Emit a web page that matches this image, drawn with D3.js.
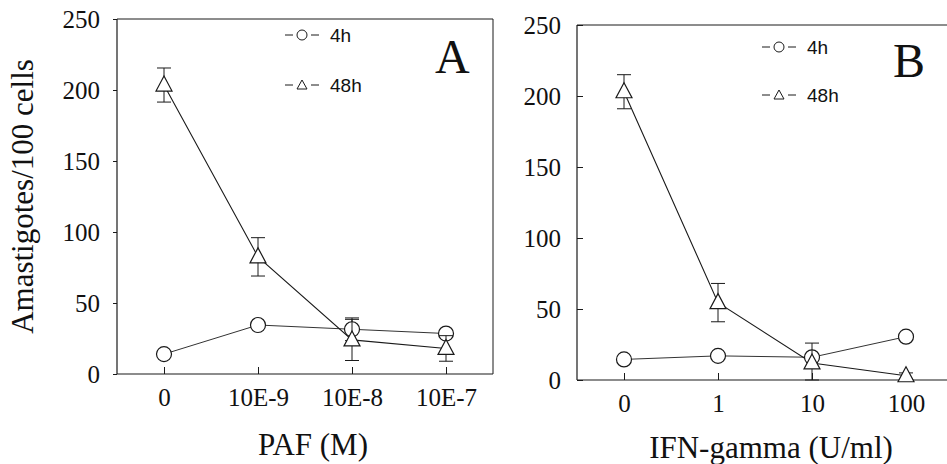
<!DOCTYPE html>
<html lang="en">
<head>
<meta charset="UTF-8">
<title>Amastigotes</title>
<script src="https://cdnjs.cloudflare.com/ajax/libs/d3/7.8.5/d3.min.js"></script>
<style>
  body { margin: 0; background: #fff; }
  svg { display: block; }
  .tick-label { font-family: "Liberation Serif", "Times New Roman", serif; font-size: 25px; fill: #111; }
  .title { font-family: "Liberation Serif", "Times New Roman", serif; font-size: 31px; fill: #111; }
  .legend { font-family: "Liberation Sans", Arial, sans-serif; font-size: 19px; fill: #111; }
  .letter { font-family: "Liberation Serif", "Times New Roman", serif; font-size: 48px; fill: #111; }
</style>
</head>
<body>
<script>
// data
var pafDoses = ["0", "10E-9", "10E-8", "10E-7"];
var ifnDoses = ["0", "1", "10", "100"];
var yTicks = [0, 50, 100, 150, 200, 250];

var paf4h = [14, 34.5, 31.5, 28.5];
var paf4hErr = [2, 2, 8, 2];
var paf48h = [203.5, 82.5, 24, 18];
var paf48hErr = [12, 13.5, 14.5, 9];

var ifn4h = [14.5, 17, 16, 30.5];
var ifn4hErr = [2, 2, 2, 2];
var ifn48h = [203, 54.5, 12, 3];
var ifn48hErr = [12, 13.5, 14, 2];

var svg = d3.select("body").append("svg")
    .attr("width", 947)
    .attr("height", 464);

var ink = "#1a1a1a";

function triPath(g) {
  return g.append("path").attr("d", "M0,-9L8,6L-8,6Z");
}

function drawPanel(p) {
  var x = d3.scaleLinear().domain([-0.5, 3.5]).range([p.left, p.right]);
  var y = d3.scaleLinear().domain([0, 250]).range([p.bottom, p.top]);
  var g = svg.append("g");

  // frame
  g.append("line").attr("x1", p.left).attr("x2", p.left).attr("y1", p.top).attr("y2", p.bottom)
    .attr("stroke", ink).attr("stroke-width", 1.2);
  g.append("line").attr("x1", p.left).attr("x2", p.right).attr("y1", p.bottom).attr("y2", p.bottom)
    .attr("stroke", ink).attr("stroke-width", 1.2);
  g.append("line").attr("x1", p.left).attr("x2", p.right).attr("y1", p.top).attr("y2", p.top)
    .attr("stroke", ink).attr("stroke-width", 1);
  if (p.boxRight) {
    g.append("line").attr("x1", p.right).attr("x2", p.right).attr("y1", p.top).attr("y2", p.bottom)
      .attr("stroke", ink).attr("stroke-width", 1);
  }

  // y axis
  var yAxis = g.append("g").attr("transform", "translate(" + p.left + ",0)")
    .call(d3.axisLeft(y).tickValues(yTicks).tickSize(p.yTickIn ? -6 : 4).tickPadding(p.yTickIn ? 16 : 13));
  yAxis.select(".domain").remove();
  yAxis.selectAll("line").attr("stroke", ink);
  yAxis.selectAll("text").attr("class", "tick-label").attr("dy", "0.35em");
  yAxis.attr("font-size", null).attr("font-family", null);

  // x axis
  var xAxis = g.append("g").attr("transform", "translate(0," + p.bottom + ")")
    .call(d3.axisBottom(x).tickValues([0, 1, 2, 3]).tickSize(-7).tickPadding(14)
      .tickFormat(function (d) { return p.cats[d]; }));
  xAxis.select(".domain").remove();
  xAxis.selectAll("line").attr("stroke", ink);
  xAxis.selectAll("text").attr("class", "tick-label").attr("dy", "0.71em");
  xAxis.attr("font-size", null).attr("font-family", null);

  // titles
  g.append("text").attr("class", "title").attr("text-anchor", "middle")
    .attr("x", p.titleX).attr("y", p.titleY).text(p.xTitle);
  if (p.yTitle) {
    g.append("text").attr("class", "title").attr("text-anchor", "middle")
      .attr("transform", "translate(33," + ((p.top + p.bottom) / 2) + ") rotate(-90)")
      .text(p.yTitle);
  }
  g.append("text").attr("class", "letter").attr("x", p.letterX).attr("y", p.letterY).text(p.letter);

  // connecting lines
  var line = d3.line().x(function (d, i) { return x(i); }).y(function (d) { return y(d); });
  g.append("path").datum(p.s4).attr("d", line).attr("fill", "none").attr("stroke", "#333").attr("stroke-width", 1);
  g.append("path").datum(p.s48).attr("d", line).attr("fill", "none").attr("stroke", ink).attr("stroke-width", 1.1);

  function errBars(vals, errs) {
    var e = g.append("g").selectAll("g").data(vals).join("g");
    e.append("line").attr("x1", function (d, i) { return x(i); }).attr("x2", function (d, i) { return x(i); })
      .attr("y1", function (d, i) { return y(d + errs[i]); }).attr("y2", function (d, i) { return y(Math.max(0, d - errs[i])); })
      .attr("stroke", ink).attr("stroke-width", 1);
    [1, -1].forEach(function (s) {
      e.append("line").attr("x1", function (d, i) { return x(i) - 7; }).attr("x2", function (d, i) { return x(i) + 7; })
        .attr("y1", function (d, i) { return y(Math.max(0, d + s * errs[i])); })
        .attr("y2", function (d, i) { return y(Math.max(0, d + s * errs[i])); })
        .attr("stroke", ink).attr("stroke-width", 1);
    });
  }

  errBars(p.s4, p.e4);
  g.append("g").selectAll("circle").data(p.s4).join("circle")
    .attr("cx", function (d, i) { return x(i); }).attr("cy", function (d) { return y(d); })
    .attr("r", 7.5).attr("fill", "#fff").attr("stroke", ink).attr("stroke-width", 1.2);

  errBars(p.s48, p.e48);
  g.append("g").selectAll("g.tri").data(p.s48).join("g").attr("class", "tri")
    .attr("transform", function (d, i) { return "translate(" + x(i) + "," + y(d) + ")"; })
    .each(function () {
      triPath(d3.select(this)).attr("fill", "#fff").attr("stroke", ink).attr("stroke-width", 1.2);
    });

  // legend
  var lg = g.append("g");
  [[p.legY1, "4h", "c"], [p.legY2, "48h", "t"]].forEach(function (r) {
    var cy = r[0];
    lg.append("line").attr("x1", p.legX - 17).attr("x2", p.legX - 9).attr("y1", cy).attr("y2", cy)
      .attr("stroke", ink).attr("stroke-width", 1);
    lg.append("line").attr("x1", p.legX + 9).attr("x2", p.legX + 17).attr("y1", cy).attr("y2", cy)
      .attr("stroke", ink).attr("stroke-width", 1);
    if (r[2] === "c") {
      lg.append("circle").attr("cx", p.legX).attr("cy", cy).attr("r", 5)
        .attr("fill", "#fff").attr("stroke", ink).attr("stroke-width", 1);
    } else {
      lg.append("path").attr("d", "M0,-5L5,4L-5,4Z")
        .attr("transform", "translate(" + p.legX + "," + cy + ")")
        .attr("fill", "#fff").attr("stroke", ink).attr("stroke-width", 1);
    }
    lg.append("text").attr("class", "legend").attr("x", p.legX + 28).attr("y", cy).attr("dy", "0.36em").text(r[1]);
  });
}

drawPanel({
  left: 117, right: 493, top: 19, bottom: 374, boxRight: true, yTickIn: false,
  cats: pafDoses, xTitle: "PAF (M)", titleX: 313, titleY: 455,
  yTitle: "Amastigotes/100 cells",
  letter: "A", letterX: 435, letterY: 73,
  legX: 302, legY1: 35, legY2: 85,
  s4: paf4h, e4: paf4hErr, s48: paf48h, e48: paf48hErr
});

drawPanel({
  left: 577, right: 953, top: 25, bottom: 380, boxRight: false, yTickIn: true,
  cats: ifnDoses, xTitle: "IFN-gamma (U/ml)", titleX: 771, titleY: 458,
  yTitle: null,
  letter: "B", letterX: 893, letterY: 77,
  legX: 779, legY1: 47, legY2: 95,
  s4: ifn4h, e4: ifn4hErr, s48: ifn48h, e48: ifn48hErr
});
</script>
</body>
</html>
